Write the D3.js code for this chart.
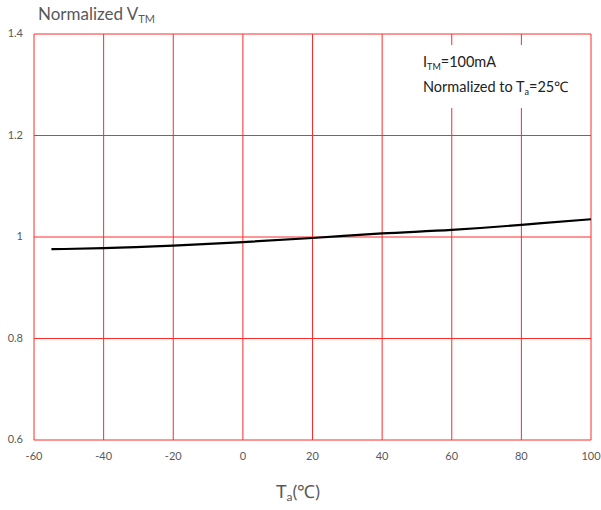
<!DOCTYPE html>
<html><head><meta charset="utf-8">
<script src="https://cdn.jsdelivr.net/npm/d3@7"></script>
<style>body{margin:0;background:#fff;}svg{display:block;font-family:Lato,"Open Sans",sans-serif;}</style>
</head><body>
<svg id="c" width="601" height="510"></svg>
<script>
const temps = [-55, -40, -20, 0, 20, 40, 60, 80, 85, 100];
const vtm = [0.976, 0.978, 0.983, 0.990, 0.998, 1.007, 1.014, 1.024, 1.027, 1.035];
const xTicks = [-60, -40, -20, 0, 20, 40, 60, 80, 100];
const yTicks = [0.6, 0.8, 1, 1.2, 1.4];
const yTickLabels = ["0.6", "0.8", "1", "1.2", "1.4"];

const svg = d3.select("#c");
const x = d3.scaleLinear().domain([-60, 100]).range([34, 591]);
const y = d3.scaleLinear().domain([0.6, 1.4]).range([440, 34]);
const grid = "#ff2a2a";
const txt = "#595959";

svg.append("g").selectAll("line").data(yTicks).join("line")
  .attr("x1", x(-60)).attr("x2", x(100)).attr("y1", d => y(d)).attr("y2", d => y(d))
  .attr("stroke", grid).attr("stroke-width", 1);
svg.append("g").selectAll("line").data(xTicks).join("line")
  .attr("x1", d => x(d)).attr("x2", d => x(d)).attr("y1", y(1.4)).attr("y2", y(0.6))
  .attr("stroke", grid).attr("stroke-width", 1);

// annotation background
svg.append("rect").attr("x", 408).attr("y", 45).attr("width", 172).attr("height", 63).attr("fill", "#fff");

svg.append("path").datum(temps.map((t, i) => [t, vtm[i]]))
  .attr("d", d3.line().x(d => x(d[0])).y(d => y(d[1])).curve(d3.curveMonotoneX))
  .attr("fill", "none").attr("stroke", "#000").attr("stroke-width", 2.2);

svg.append("g").selectAll("text").data(yTicks).join("text")
  .attr("x", 23).attr("y", d => y(d) + 3).attr("text-anchor", "end")
  .attr("font-size", 11).attr("fill", txt).text((d, i) => yTickLabels[i]);
svg.append("g").selectAll("text").data(xTicks).join("text")
  .attr("x", d => x(d)).attr("y", 460).attr("text-anchor", "middle")
  .attr("font-size", 11).attr("fill", txt).text(d => d);

const yt = svg.append("text").attr("x", 38).attr("y", 20).attr("font-size", 17).attr("fill", txt);
yt.append("tspan").text("Normalized V");
yt.append("tspan").attr("font-size", 11).attr("dy", 3).text("TM");

const xt = svg.append("text").attr("x", 298).attr("y", 498).attr("text-anchor", "middle").attr("font-size", 18).attr("fill", txt);
xt.append("tspan").text("T");
xt.append("tspan").attr("font-size", 12).attr("dy", 3).text("a");
xt.append("tspan").attr("dy", -3).text("(℃)");

const a1 = svg.append("text").attr("x", 423).attr("y", 67).attr("font-size", 14.5).attr("fill", "#222");
a1.append("tspan").text("I");
a1.append("tspan").attr("font-size", 9).attr("dy", 3).text("TM");
a1.append("tspan").attr("dy", -3).text("=100mA");
const a2 = svg.append("text").attr("x", 423).attr("y", 92).attr("font-size", 14.5).attr("fill", "#222");
a2.append("tspan").text("Normalized to T");
a2.append("tspan").attr("font-size", 9).attr("dy", 3).text("a");
a2.append("tspan").attr("dy", -3).text("=25℃");
</script>
</body></html>
